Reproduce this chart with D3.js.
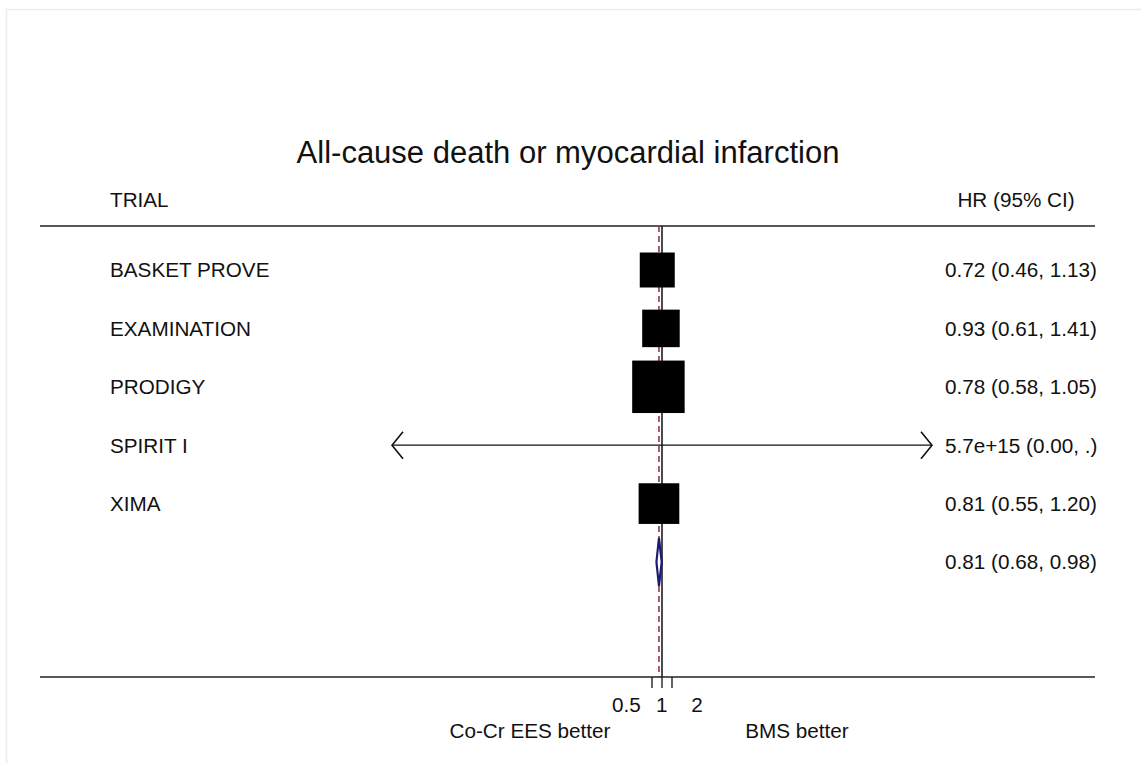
<!DOCTYPE html>
<html>
<head>
<meta charset="utf-8">
<script src="https://cdn.jsdelivr.net/npm/d3@7"></script>
<style>
  html, body { margin: 0; padding: 0; background: #ffffff; }
  svg { display: block; }
  text { font-family: "Liberation Sans", Arial, Helvetica, sans-serif; fill: #111; }
</style>
</head>
<body>
<svg id="chart" width="1141" height="763"></svg>
<script>
// ---------- data ----------
const title = "All-cause death or myocardial infarction";
const trials = ["BASKET PROVE", "EXAMINATION", "PRODIGY", "SPIRIT I", "XIMA"];
const hr     = [0.72, 0.93, 0.78, 5.7e15, 0.81];
const ciLow  = [0.46, 0.61, 0.58, 0.00, 0.55];
const ciHigh = [1.13, 1.41, 1.05, NaN, 1.20];
const weights = [17.4, 20.0, 39.1, 0.0, 23.5];
const hrText = ["0.72 (0.46, 1.13)", "0.93 (0.61, 1.41)", "0.78 (0.58, 1.05)",
                "5.7e+15 (0.00, .)", "0.81 (0.55, 1.20)"];
const overallHR = [0.81];
const overallLow = [0.68];
const overallHigh = [0.98];
const overallText = ["0.81 (0.68, 0.98)"];
const tickValues = [0.5, 1, 2];
const tickLabels = ["0.5", "1", "2"];
const favourLeft = "Co-Cr EES better";
const favourRight = "BMS better";
const headerLeft = "TRIAL";
const headerRight = "HR (95% CI)";

// ---------- layout ----------
const svg = d3.select("#chart");
const W = 1141, H = 763;
const lineL = 40, lineR = 1095;
const topY = 226, axisY = 677;
const plotL = 392, plotR = 932;     // visible x extent of CI lines
const fs = 20.7;

// frame
svg.append("rect").attr("x", 6.5).attr("y", 9.5).attr("width", W).attr("height", H)
  .attr("fill", "none").attr("stroke", "#e6ecef").attr("stroke-width", 1.5);

const x = d3.scaleLog().domain([0.5, 2]).range([652, 672]);
const xLab = d3.scaleLog().domain([0.5, 2]).range([626.5, 697]);
const y = d3.scaleLinear().domain([0, 5]).range([270, 562]);
const boxSide = d3.scaleSqrt().domain([0, 17.4]).range([0, 35]);

// title and headers
svg.append("text").attr("x", 568).attr("y", 152).attr("dy", "0.36em")
  .attr("text-anchor", "middle").style("font-size", "31px").text(title);
svg.append("text").attr("x", 110).attr("y", 200).attr("dy", "0.36em")
  .style("font-size", fs + "px").text(headerLeft);
svg.append("text").attr("x", 1016).attr("y", 200).attr("dy", "0.36em")
  .attr("text-anchor", "middle").style("font-size", fs + "px").text(headerRight);

// horizontal rule
svg.append("line").attr("x1", lineL).attr("x2", lineR).attr("y1", topY).attr("y2", topY)
  .attr("stroke", "#222").attr("stroke-width", 1.5);

// null line and overall dashed line
svg.append("line").attr("x1", x(1)).attr("x2", x(1)).attr("y1", topY).attr("y2", axisY)
  .attr("stroke", "#111").attr("stroke-width", 1.5);
svg.append("line").attr("x1", x(overallHR[0])).attr("x2", x(overallHR[0]))
  .attr("y1", topY).attr("y2", axisY)
  .attr("stroke", "#8e3a4c").attr("stroke-width", 1.6).attr("stroke-dasharray", "6,4");

// rows
const rows = trials.map((t, i) => ({ t, i, hr: hr[i], lo: ciLow[i], hi: ciHigh[i], w: weights[i], txt: hrText[i] }));

svg.selectAll("text.trial").data(rows).enter().append("text").attr("class", "trial")
  .attr("x", 110).attr("y", d => y(d.i)).attr("dy", "0.36em")
  .style("font-size", fs + "px").text(d => d.t);

svg.selectAll("text.hr").data(rows).enter().append("text").attr("class", "hr")
  .attr("x", 945).attr("y", d => y(d.i)).attr("dy", "0.36em")
  .style("font-size", fs + "px").text(d => d.txt);

// CI lines with arrows if clipped
rows.forEach(d => {
  const cy = y(d.i);
  const loClip = !(d.lo > 0) || x(d.lo) < plotL;
  const hiClip = !(d.hi > 0) || x(d.hi) > plotR;
  const x1 = loClip ? plotL : x(d.lo);
  const x2 = hiClip ? plotR : x(d.hi);
  svg.append("line").attr("x1", x1).attr("x2", x2).attr("y1", cy).attr("y2", cy)
    .attr("stroke", "#111").attr("stroke-width", 1.3);
  if (loClip) {
    svg.append("path").attr("d", `M${x1 + 11},${cy - 13.5}L${x1},${cy}L${x1 + 11},${cy + 13.5}`)
      .attr("fill", "none").attr("stroke", "#111").attr("stroke-width", 1.6);
  }
  if (hiClip) {
    svg.append("path").attr("d", `M${x2 - 11},${cy - 13.5}L${x2},${cy}L${x2 - 11},${cy + 13.5}`)
      .attr("fill", "none").attr("stroke", "#111").attr("stroke-width", 1.6);
  }
});

// weighted boxes
svg.selectAll("rect.box").data(rows.filter(d => d.w > 0 && x(d.hr) >= plotL && x(d.hr) <= plotR))
  .enter().append("rect").attr("class", "box")
  .attr("x", d => x(d.hr) - boxSide(d.w) / 2)
  .attr("y", d => y(d.i) - boxSide(d.w) / 2)
  .attr("width", d => boxSide(d.w)).attr("height", d => boxSide(d.w))
  .attr("fill", "#000");

// overall diamond
const dy0 = y(5);
svg.append("path")
  .attr("d", `M${x(overallLow[0])},${dy0}L${x(overallHR[0])},${dy0 - 24}L${x(overallHigh[0])},${dy0}L${x(overallHR[0])},${dy0 + 24}Z`)
  .attr("fill", "#fff").attr("stroke", "#1a1a72").attr("stroke-width", 2.2);
svg.append("text").attr("x", 945).attr("y", dy0).attr("dy", "0.36em")
  .style("font-size", fs + "px").text(overallText[0]);

// bottom axis
svg.append("line").attr("x1", lineL).attr("x2", lineR).attr("y1", axisY).attr("y2", axisY)
  .attr("stroke", "#222").attr("stroke-width", 1.5);
svg.selectAll("line.tick").data(tickValues).enter().append("line").attr("class", "tick")
  .attr("x1", d => x(d)).attr("x2", d => x(d)).attr("y1", axisY).attr("y2", axisY + 11)
  .attr("stroke", "#111").attr("stroke-width", 1.3);
svg.selectAll("text.tick").data(tickValues).enter().append("text").attr("class", "tick")
  .attr("x", d => xLab(d)).attr("y", 705).attr("dy", "0.36em").attr("text-anchor", "middle")
  .style("font-size", fs + "px").text((d, i) => tickLabels[i]);

svg.append("text").attr("x", 530).attr("y", 731).attr("dy", "0.36em").attr("text-anchor", "middle")
  .style("font-size", fs + "px").text(favourLeft);
svg.append("text").attr("x", 797).attr("y", 731).attr("dy", "0.36em").attr("text-anchor", "middle")
  .style("font-size", fs + "px").text(favourRight);
</script>
</body>
</html>
